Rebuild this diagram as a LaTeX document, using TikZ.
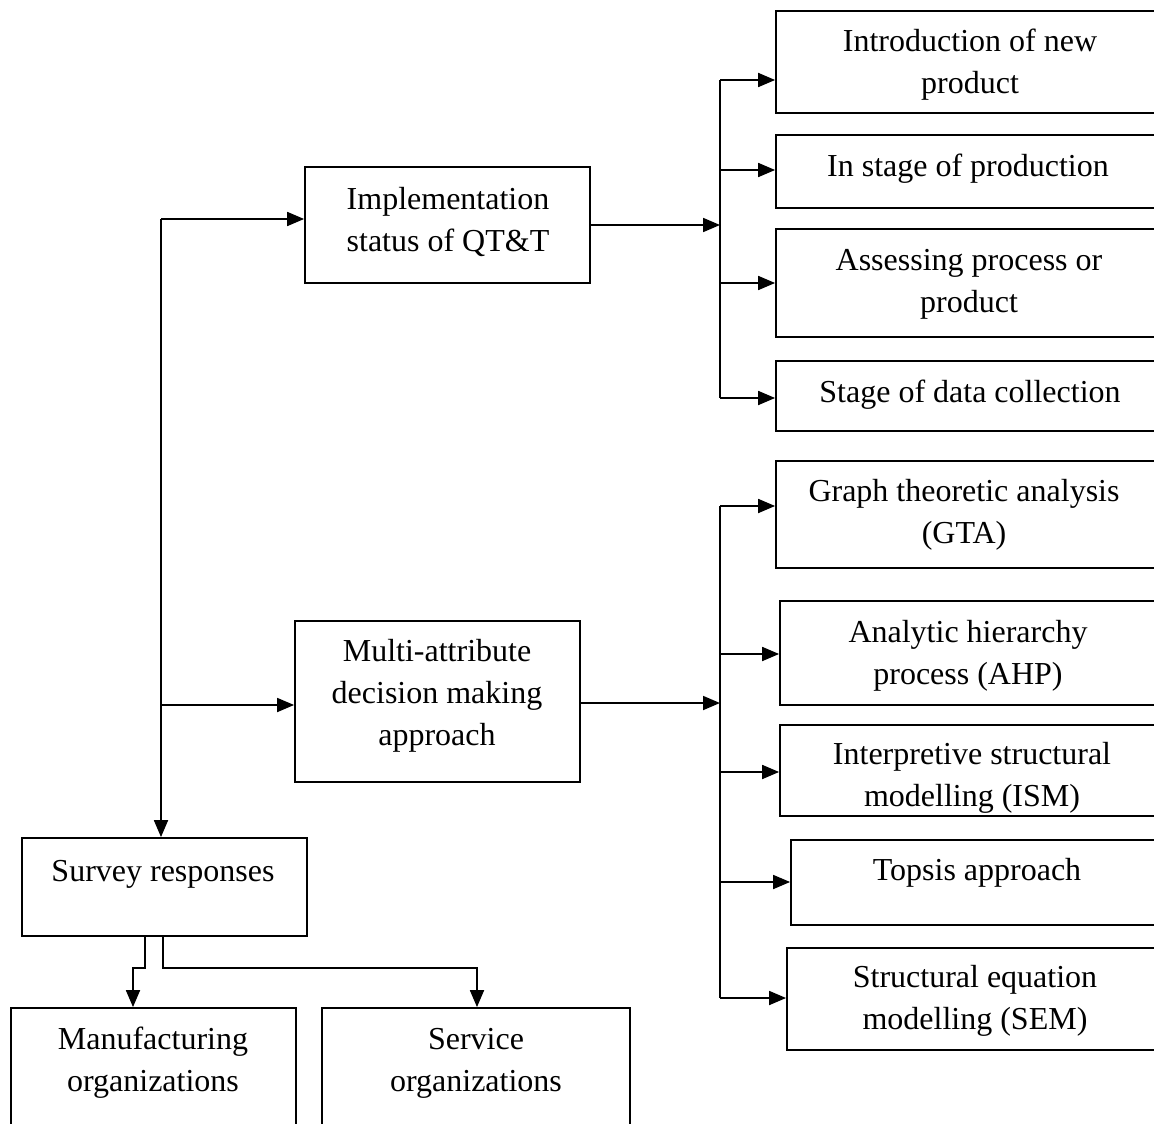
\documentclass[tikz,border=0pt]{standalone}
\usepackage{fontspec}
\setmainfont{Liberation Serif}
\usetikzlibrary{arrows.meta,fit}
\begin{document}
\begin{tikzpicture}[x=0.5pt,y=-0.5pt,
  box/.style={draw, line width=0.9pt, inner sep=0pt},
  lbl/.style={align=center, font=\fontsize{16}{21}\selectfont, inner sep=0pt},
  link/.style={line width=0.9pt},
  arr/.style={link, -{Triangle[length=8.5pt,width=7pt]}}]
\useasboundingbox (0,0) rectangle (1154,1123);

% boxes
\node[box, fit={(305,167) (590,283)}] (impl) {};
\node[box, fit={(295,621) (580,782)}] (madm) {};
\node[box, fit={(22,838) (307,936)}] (survey) {};
\node[box, fit={(11,1008) (296,1135)}] (manu) {};
\node[box, fit={(322,1008) (630,1135)}] (serv) {};

\node[box, fit={(776,11) (1165,113)}] (intro) {};
\node[box, fit={(776,135) (1165,208)}] (prod) {};
\node[box, fit={(776,229) (1165,337)}] (assess) {};
\node[box, fit={(776,361) (1165,431)}] (data) {};

\node[box, fit={(776,461) (1165,568)}] (gta) {};
\node[box, fit={(780,601) (1165,705)}] (ahp) {};
\node[box, fit={(780,725) (1165,816)}] (ism) {};
\node[box, fit={(791,840) (1165,925)}] (topsis) {};
\node[box, fit={(787,948) (1165,1050)}] (sem) {};

% labels
\node[lbl] (timpl) at (448,222) {Implementation\\status of QT\&T};
\node[lbl] (tmadm) at (437,696) {Multi-attribute\\decision making\\approach};
\node[lbl] (tsurvey) at (163,874) {Survey responses};
\node[lbl] (tmanu) at (153,1063) {Manufacturing\\organizations};
\node[lbl] (tserv) at (476,1063) {Service\\organizations};

\node[lbl] (tintro) at (970,65) {Introduction of new\\product};
\node[lbl] (tprod) at (968,169) {In stage of production};
\node[lbl] (tassess) at (969,284) {Assessing process or\\product};
\node[lbl] (tdata) at (970,395) {Stage of data collection};

\node[lbl] (tgta) at (964,515) {Graph theoretic analysis\\(GTA)};
\node[lbl] (tahp) at (968,656) {Analytic hierarchy\\process (AHP)};
\node[lbl] (tism) at (972,778) {Interpretive structural\\modelling (ISM)};
\node[lbl] (ttopsis) at (977,873) {Topsis approach};
\node[lbl] (tsem) at (975,1001) {Structural equation\\modelling (SEM)};

% left trunk
\coordinate (t1) at (161,219);
\coordinate (t2) at (161,705);
\draw[link] (t1) -- (t2);
\draw[arr] (t2) -- (t2 |- survey.north);
\draw[arr] (t1) -- (t1 -| impl.west);
\draw[arr] (t2) -- (t2 -| madm.west);

% survey split
\coordinate (m0) at (145,936);
\coordinate (m1) at (145,968);
\coordinate (m2) at (133,968);
\coordinate (s0) at (163,936);
\coordinate (s1) at (163,968);
\coordinate (s2) at (477,968);
\draw[arr] (m0) -- (m1) -- (m2) -- (m2 |- manu.north);
\draw[arr] (s0) -- (s1) -- (s2) -- (s2 |- serv.north);

% upper bus
\coordinate (ua) at (720,80);
\coordinate (ub) at (720,170);
\coordinate (uc) at (720,283);
\coordinate (ud) at (720,398);
\coordinate (uin) at (720,225);
\draw[link] (ua) -- (ud);
\draw[arr] (uin -| impl.east) -- (uin);
\draw[arr] (ua) -- (ua -| intro.west);
\draw[arr] (ub) -- (ub -| prod.west);
\draw[arr] (uc) -- (uc -| assess.west);
\draw[arr] (ud) -- (ud -| data.west);

% lower bus
\coordinate (la) at (720,506);
\coordinate (lb) at (720,654);
\coordinate (lc) at (720,772);
\coordinate (ld) at (720,882);
\coordinate (le) at (720,998);
\coordinate (lin) at (720,703);
\draw[link] (la) -- (le);
\draw[arr] (lin -| madm.east) -- (lin);
\draw[arr] (la) -- (la -| gta.west);
\draw[arr] (lb) -- (lb -| ahp.west);
\draw[arr] (lc) -- (lc -| ism.west);
\draw[arr] (ld) -- (ld -| topsis.west);
\draw[arr] (le) -- (le -| sem.west);
\end{tikzpicture}
\end{document}
